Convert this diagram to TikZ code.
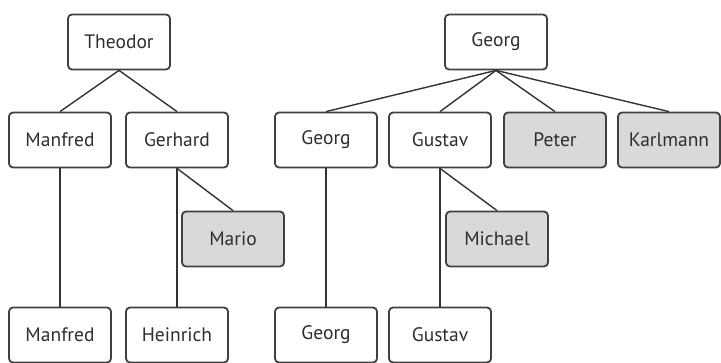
\documentclass[tikz,border=0pt]{standalone}
\usepackage{fontspec}
\setmainfont{PT Sans}
\begin{document}
\begin{tikzpicture}[x=1pt,y=-1pt,
  person/.style={draw=black!75,line width=1.8pt,rounded corners=4pt,fill=white,
    minimum width=102pt,minimum height=55pt,inner sep=0pt,
    font=\fontsize{19.5}{22}\selectfont,text=black!82},
  other/.style={person,fill=black!15},
  link/.style={draw=black!80,line width=1.4pt}]
\useasboundingbox (0,0) rectangle (721,363);
% left tree
\node[person] (theo) at (119,42) {Theodor};
\node[person] (manf1) at (60,140) {Manfred};
\node[person] (gerh) at (177,140) {Gerhard};
\node[other] (mario) at (233,239) {Mario};
\node[person] (manf2) at (60,335) {Manfred};
\node[person] (hein) at (177,335) {Heinrich};
% right tree
\node[person] (georg0) at (496,42) {Georg};
\node[person] (georg1) at (326,140) {Georg};
\node[person] (gust1) at (440,140) {Gustav};
\node[other] (peter) at (555,140) {Peter};
\node[other] (karl) at (669,140) {Karlmann};
\node[other] (mich) at (497,239) {Michael};
\node[person] (georg2) at (326,335) {Georg};
\node[person] (gust2) at (440,335) {Gustav};
% connectors
\draw[link] (theo.south) -- (manf1.north);
\draw[link] (theo.south) -- (gerh.north);
\draw[link] (manf1.south) -- (manf2.north);
\draw[link] (gerh.south) -- (hein.north);
\draw[link] (gerh.south) -- (mario.north);
\draw[link] (georg0.south) -- (georg1.north);
\draw[link] (georg0.south) -- (gust1.north);
\draw[link] (georg0.south) -- (peter.north);
\draw[link] (georg0.south) -- (karl.north);
\draw[link] (georg1.south) -- (georg2.north);
\draw[link] (gust1.south) -- (gust2.north);
\draw[link] (gust1.south) -- (mich.north);
\end{tikzpicture}
\end{document}
